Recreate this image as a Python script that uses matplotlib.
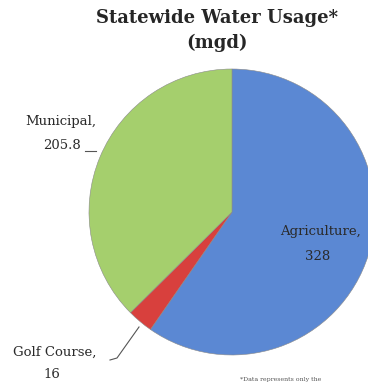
import matplotlib
import matplotlib.pyplot as plt

matplotlib.use("Agg")

categories = ["Agriculture", "Golf Course", "Municipal"]
usage_mgd = [328, 16, 205.8]
value_labels = ["328", "16", "205.8"]
colors = ["#5b88d3", "#d8403d", "#a5cf6d"]

W, H = 368, 384


def fx(px):
    return px / W


def fy(py):
    return 1 - py / H


plt.rcParams["font.family"] = ["DejaVu Serif"]

fig = plt.figure(figsize=(W / 100, H / 100), dpi=100)

# pie centred at (232, 212) px, radius 143 px
cx, cy, r = 232, 212, 143
ax = fig.add_axes([fx(cx - r), fy(cy + r), 2 * r / W, 2 * r / H])
ax.pie(usage_mgd, colors=colors, startangle=90, counterclock=False,
       wedgeprops=dict(edgecolor="#8a8a8a", linewidth=0.4))
ax.set_xlim(-1, 1)
ax.set_ylim(-1, 1)
ax.set_aspect("equal")
ax.axis("off")

fig.text(fx(217), fy(18), "Statewide Water Usage*", ha="center", va="center",
         fontsize=13, fontweight="bold", color="#262626")
fig.text(fx(217), fy(43), "(mgd)", ha="center", va="center",
         fontsize=13, fontweight="bold", color="#262626")

lab_kw = dict(ha="center", va="center", fontsize=9.5, color="#2a2a2a")
fig.text(fx(61), fy(121), f"{categories[2]},", **lab_kw)
fig.text(fx(62), fy(145), value_labels[2], **lab_kw)
fig.text(fx(320), fy(232), f"{categories[0]},", **lab_kw)
fig.text(fx(318), fy(256), value_labels[0], **lab_kw)
fig.text(fx(55), fy(352), f"{categories[1]},", **lab_kw)
fig.text(fx(52), fy(374), value_labels[1], **lab_kw)

# leader lines
fig.add_artist(plt.Line2D([fx(85), fx(96)], [fy(151), fy(151)], color="#555555", lw=0.8))
fig.add_artist(plt.Line2D([fx(110), fx(117), fx(139)], [fy(360), fy(358), fy(327)],
                          color="#555555", lw=0.8))

fig.text(fx(240), fy(379), "*Data represents only the", ha="left", va="center",
         fontsize=4.5, color="#555555")

fig.savefig("out.png", dpi=100)
